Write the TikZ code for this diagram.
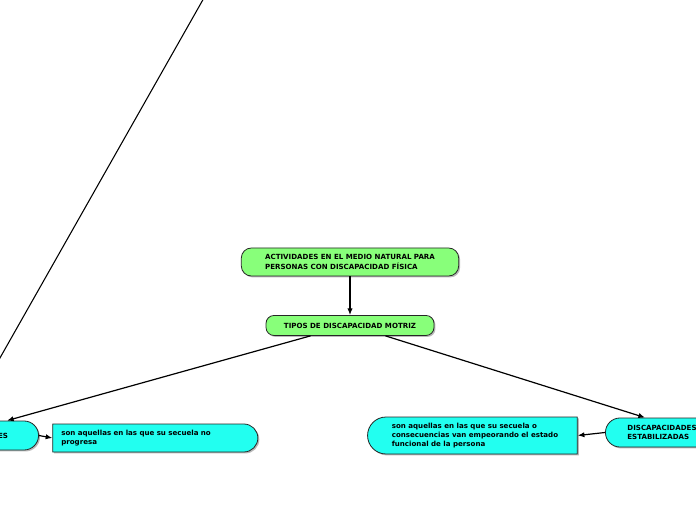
\documentclass[tikz,border=0pt]{standalone}
\usepackage{fontspec}
\newfontfamily\mapfont{DejaVu Sans}
\usetikzlibrary{arrows.meta, shapes.misc, positioning, shadows}
\definecolor{mapgreen}{RGB}{136,255,122}
\definecolor{mapcyan}{RGB}{34,255,240}

\begin{document}
\begin{tikzpicture}[x=0.75pt, y=-0.75pt,
  blk/.style={draw=black!85, fill=#1, line width=0.6pt, align=left,
              font=\mapfont\bfseries\fontsize{5.3}{7}\selectfont, text=black,
              drop shadow={shadow xshift=1.1pt, shadow yshift=-1.1pt, fill=black!55}},
  arr/.style={-{Latex[length=5pt, width=4pt]}, line width=0.9pt},
  ln/.style={line width=0.8pt}
]
\useasboundingbox (0,0) rectangle (696,520);
\clip (0,0) rectangle (696,520);
% main topic and its child
\node[blk=mapgreen, rectangle, rounded corners=7.5pt,
      minimum width=163pt, minimum height=21pt] (act) at (350,262)
  {ACTIVIDADES EN EL MEDIO NATURAL PARA\\PERSONAS CON DISCAPACIDAD FÍSICA};
\node[blk=mapgreen, rectangle, rounded corners=6pt,
      minimum width=126pt, minimum height=15pt, below=29pt of act] (tipos)
  {TIPOS DE DISCAPACIDAD MOTRIZ};
% left branch
\node[blk=mapcyan, rounded rectangle, text width=28.5pt, align=right,
      minimum width=81pt, minimum height=21.75pt] (prog) at (-11,435.5) {ES};
\node[blk=mapcyan, rounded rectangle, rounded rectangle west arc=none, text width=139pt,
      minimum width=160.5pt, minimum height=21pt] (nopro) at (154,438)
  {son aquellas en las que su secuela no\\progresa};
% right branch
\node[blk=mapcyan, rounded rectangle, minimum width=91.5pt, minimum height=21.75pt]
  (estab) at (662,432.5) {DISCAPACIDADES\\ESTABILIZADAS};
\node[blk=mapcyan, rounded rectangle, rounded rectangle east arc=none,
      minimum width=164pt, minimum height=27.75pt] (empeora) at (475,435.5)
  {son aquellas en las que su secuela o\\consecuencias van empeorando el estado\\funcional de la persona};
\draw[arr] (act.south) -- (tipos.north);
\draw[arr] ([xshift=-29.6pt]tipos.south) -- ([xshift=13.5pt]prog.north);
\draw[arr] ([xshift=26.6pt]tipos.south) -- ([xshift=-12.75pt]estab.north);
\draw[arr] (prog.east) -- (nopro.west);
\draw[arr] (estab.west) -- (empeora.east);
% loose line coming from outside the view
\coordinate (lnA) at (213,-18);
\coordinate (lnB) at (-8,372);
\draw[ln] (lnA) -- (lnB);
\end{tikzpicture}
\end{document}
